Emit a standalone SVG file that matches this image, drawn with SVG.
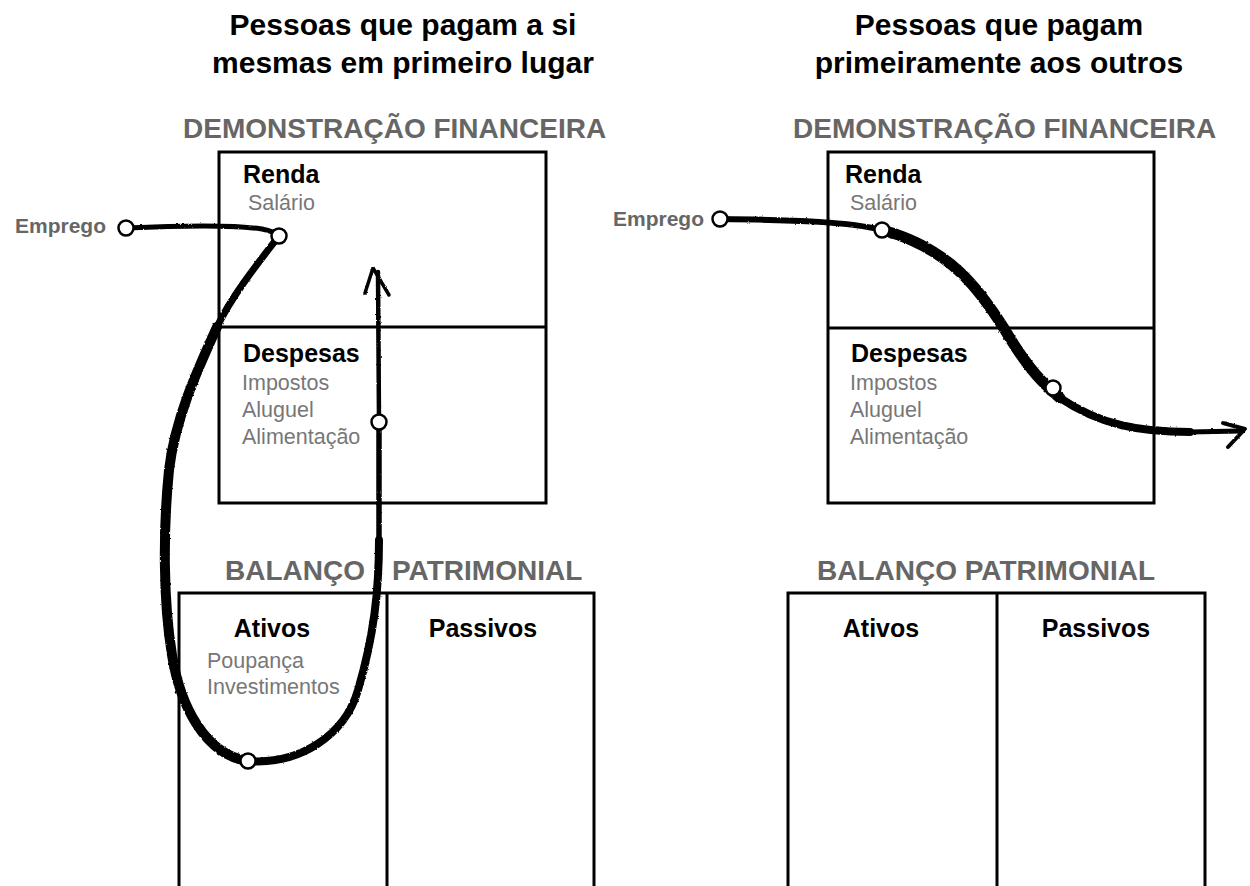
<svg xmlns="http://www.w3.org/2000/svg" width="1250" height="886" viewBox="0 0 1250 886">
<style>
text{font-family:"Liberation Sans",Arial,Helvetica,sans-serif}
.title{font-size:30px;font-weight:bold;fill:#000;text-anchor:middle}
.head{font-size:28px;font-weight:bold;fill:#666}
.lbl{font-size:25px;font-weight:bold;fill:#000}
.item{font-size:21.5px;fill:#777}
.emp{font-size:21px;font-weight:bold;fill:#666;text-anchor:end}
.box{fill:none;stroke:#000;stroke-width:3}
.flow{fill:none;stroke:#000;stroke-linecap:round;stroke-linejoin:round}
.dot{fill:#fff;stroke:#000;stroke-width:2.5}
</style>
<defs>
<filter id="rough" x="-5%" y="-5%" width="110%" height="110%">
<feTurbulence type="fractalNoise" baseFrequency="0.35" numOctaves="2" seed="3"/>
<feDisplacementMap in="SourceGraphic" scale="2.2" xChannelSelector="R" yChannelSelector="G"/>
</filter>
</defs>
<rect width="1250" height="886" fill="#fff"/>

<g id="title-left">
<text class="title" x="403" y="35">Pessoas que pagam a si</text>
<text class="title" x="403" y="73">mesmas em primeiro lugar</text>
</g>
<g id="title-right">
<text class="title" x="999" y="35">Pessoas que pagam</text>
<text class="title" x="999" y="73">primeiramente aos outros</text>
</g>

<g id="income-statement-left">
<text class="head" x="183" y="138">DEMONSTRAÇÃO FINANCEIRA</text>
<rect class="box" x="219" y="152" width="327" height="351"/>
<line class="box" x1="219" y1="327" x2="546" y2="327"/>
<text class="lbl" x="243" y="183">Renda</text>
<text class="item" x="248" y="210">Salário</text>
<text class="lbl" x="243" y="362">Despesas</text>
<text class="item" x="242" y="390">Impostos</text>
<text class="item" x="242" y="417">Aluguel</text>
<text class="item" x="242" y="444">Alimentação</text>
</g>

<g id="balance-sheet-left">
<text class="head" x="225" y="580">BALANÇO</text>
<text class="head" x="392" y="580">PATRIMONIAL</text>
<rect class="box" x="179" y="593" width="415" height="300"/>
<line class="box" x1="387" y1="593" x2="387" y2="890"/>
<text class="lbl" x="272" y="637" text-anchor="middle">Ativos</text>
<text class="item" x="207" y="668">Poupança</text>
<text class="item" x="207" y="694">Investimentos</text>
<text class="lbl" x="483" y="637" text-anchor="middle">Passivos</text>
</g>

<g id="income-statement-right">
<text class="head" x="793" y="138">DEMONSTRAÇÃO FINANCEIRA</text>
<rect class="box" x="828" y="152" width="326" height="351"/>
<line class="box" x1="828" y1="328" x2="1154" y2="328"/>
<text class="lbl" x="845" y="183">Renda</text>
<text class="item" x="850" y="210">Salário</text>
<text class="lbl" x="851" y="362">Despesas</text>
<text class="item" x="850" y="390">Impostos</text>
<text class="item" x="850" y="417">Aluguel</text>
<text class="item" x="850" y="444">Alimentação</text>
</g>

<g id="balance-sheet-right">
<text class="head" x="817" y="580">BALANÇO PATRIMONIAL</text>
<rect class="box" x="788" y="593" width="417" height="300"/>
<line class="box" x1="997" y1="593" x2="997" y2="890"/>
<text class="lbl" x="881" y="637" text-anchor="middle">Ativos</text>
<text class="lbl" x="1096" y="637" text-anchor="middle">Passivos</text>
</g>

<g id="emprego-left"><text class="emp" x="106" y="233">Emprego</text></g>
<g id="emprego-right"><text class="emp" x="704" y="226">Emprego</text></g>

<g id="connectors" filter="url(#rough)">
<path class="flow" stroke-width="5" d="M126,228 C170,226 230,224 262,229 C272,231 276,233 279,236"/>
<path class="flow" stroke-width="7" d="M279,236 C262,258 232,295 217,327"/>
<path class="flow" stroke-width="10" d="M217,327 C195,375 175,420 169,470 C163,530 163,600 172,655 C180,705 205,755 248,761"/>
<path class="flow" stroke-width="8" d="M248,761 C300,765 345,735 358,690 C374,636 379,590 379,540"/>
<path class="flow" stroke-width="5.5" d="M379,540 L379,422"/>
<path class="flow" stroke-width="4.5" d="M379,422 L378,272"/>
<path class="flow" stroke-width="3.5" d="M365,293 L373,268 L389,295"/>

<path class="flow" stroke-width="6" d="M720,219 C800,220 850,222 882,230"/>
<path class="flow" stroke-width="11" d="M882,230 C950,248 980,290 1005,330 C1030,372 1045,385 1060,398"/>
<path class="flow" stroke-width="8" d="M1060,398 C1100,425 1140,432 1190,432"/>
<path class="flow" stroke-width="5" d="M1190,432 L1240,431"/>
<path class="flow" stroke-width="4" d="M1223,423 L1245,429 L1228,447"/>
</g>

<g id="junctions">
<circle class="dot" cx="126" cy="228" r="7.5"/>
<circle class="dot" cx="279" cy="236" r="7.5"/>
<circle class="dot" cx="379" cy="422" r="7.5"/>
<circle class="dot" cx="248" cy="761" r="7.5"/>
<circle class="dot" cx="720" cy="219" r="7.5"/>
<circle class="dot" cx="882" cy="230" r="7.5"/>
<circle class="dot" cx="1053" cy="388" r="7.5"/>
</g>
</svg>
